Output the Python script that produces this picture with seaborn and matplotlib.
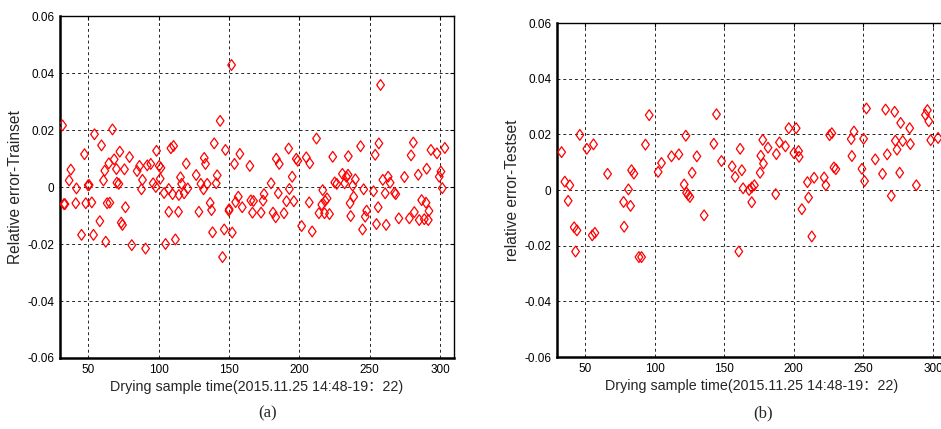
import numpy as np
import matplotlib
matplotlib.use("Agg")
import matplotlib.pyplot as plt
import seaborn as sns

# ==========================
# Data
# ==========================
train_x = [31.8, 32.8, 33.5, 37.7, 36.5, 41.7, 41.2, 45.3, 47.4, 48.3,
           50.0, 50.7, 52.6, 53.8, 54.5, 58.3, 59.5, 60.9, 61.8, 62.5,
           63.5, 65.4, 64.7, 67.3, 68.5, 70.1, 72.5, 70.4, 71.8, 73.5,
           74.4, 75.8, 76.5, 79.4, 81.0, 84.8, 86.5, 87.9, 88.6, 90.8,
           92.0, 94.5, 96.2, 98.1, 98.6, 100.5, 101.7, 101.2, 104.0, 105.0,
           107.3, 107.3, 108.8, 110.7, 110.0, 112.0, 114.2, 114.5, 115.6, 116.4,
           118.2, 119.7, 120.8, 126.8, 128.7, 130.1, 132.5, 133.4, 132.0, 134.6,
           136.7, 137.7, 138.4, 139.6, 141.0, 141.7, 143.8, 145.5, 146.7, 147.6,
           150.0, 150.2, 151.9, 152.4, 154.0, 154.8, 156.7, 157.8, 159.5, 164.9,
           165.6, 167.5, 166.8,
           172.9, 174.3, 175.0, 180.0, 181.4, 183.3, 183.7, 185.8, 185.1, 189.2,
           191.0, 192.5, 193.0, 195.0, 196.2, 197.9, 199.0, 201.7, 205.0, 207.5,
           207.1, 209.2, 212.3, 214.0, 216.7, 216.0, 218.0, 218.4, 219.8, 221.5,
           223.8, 225.2, 226.7, 230.7, 232.3, 233.5, 234.7, 234.9, 236.1, 236.6,
           238.0, 238.7, 239.9, 243.6, 245.0, 245.8, 246.9, 247.9, 252.8, 254.0,
           254.9, 256.1, 256.6, 257.8, 259.4, 261.1, 261.8, 263.2, 264.6, 267.7,
           268.6, 270.8, 274.8, 278.3, 279.5, 281.1, 281.8, 284.6, 285.3, 287.0,
           288.9, 290.1, 290.6, 291.7, 292.2, 293.6, 297.9, 299.5, 300.7, 301.7,
           303.5]
train_err = [0.0216, -0.0060, -0.0060, 0.0061, 0.0023, -0.0005, -0.0057, -0.0168, 0.0115, -0.0057,
             0.0006, 0.0007, -0.0054, -0.0168, 0.0185, -0.0120, 0.0146, 0.0023, 0.0057, -0.0192,
             -0.0057, -0.0055, 0.0083, 0.0202, 0.0097, 0.0063, 0.0124, 0.0015, 0.0011, -0.0125,
             -0.0133, 0.0062, -0.0071, 0.0105, -0.0204, 0.0056, 0.0074, -0.0008, 0.0025, -0.0216,
             0.0076, 0.0081, 0.0013, 0.0000, 0.0127, 0.0074, 0.0067, 0.0029, -0.0021, -0.0200,
             -0.0007, -0.0087, 0.0136, 0.0144, -0.0025, -0.0184, -0.0087, -0.0028, 0.0034, 0.0011,
             -0.0022, 0.0082, -0.0005, 0.0042, -0.0087, 0.0011, 0.0102, 0.0081, -0.0008, 0.0011,
             -0.0056, -0.0081, -0.0159, 0.0153, 0.0013, 0.0041, 0.0232, -0.0246, -0.0149, 0.0130,
             -0.0083, -0.0078, 0.0428, -0.0160, 0.0081, -0.0053, -0.0034, 0.0116, -0.0071, 0.0074,
             -0.0047, -0.0049, -0.0090,
             -0.0090, -0.0048, -0.0025, 0.0013, -0.0090, -0.0106, 0.0099, 0.0081, -0.0022, -0.0092,
             -0.0050, 0.0135, -0.0007, 0.0036, -0.0050, 0.0099, 0.0092, -0.0137, 0.0104, 0.0083,
             -0.0054, -0.0156, 0.0170, -0.0092, -0.0011, -0.0062, -0.0092, -0.0049, -0.0040, -0.0095,
             0.0106, 0.0016, 0.0011, 0.0046, 0.0013, 0.0036, 0.0043, 0.0108, -0.0057, -0.0102,
             0.0005, -0.0034, 0.0027, 0.0143, -0.0149, -0.0008, -0.0104, -0.0083, -0.0015, 0.0113,
             -0.0130, -0.0071, 0.0153, 0.0358, 0.0025, -0.0022, -0.0133, 0.0036, 0.0015, -0.0020,
             -0.0025, -0.0110, 0.0035, -0.0110, 0.0111, 0.0156, -0.0088, 0.0043, -0.0116, -0.0046,
             -0.0113, -0.0055, 0.0064, -0.0116, -0.0084, 0.0130, 0.0118, 0.0036, 0.0054, -0.0004,
             0.0137]

test_x = [33.3, 35.6, 39.2, 38.0, 42.3, 44.3, 43.3, 46.4, 51.4, 56.2,
          55.3, 57.2, 66.3, 77.8, 78.2, 81.3, 82.8, 83.5, 85.2, 88.8,
          90.7, 93.5, 96.2, 102.6, 105.0, 112.2, 117.5, 121.3, 122.5, 123.0,
          124.2, 125.4, 127.0, 130.4, 135.6, 142.6, 144.5, 148.1, 155.7, 157.9,
          161.5, 162.7, 160.5, 163.6, 167.9, 169.8, 171.7, 169.8, 175.8, 176.3,
          178.2, 177.7, 181.5, 187.0, 187.5, 189.7, 194.0, 196.4, 201.7, 200.0,
          203.4, 203.8, 205.8, 209.8, 210.6, 212.9, 214.6, 221.8, 223.0, 225.7,
          227.3, 228.8, 230.2, 241.2, 241.7, 243.2, 248.9, 250.1, 250.8, 252.2,
          258.5, 263.7, 265.9, 267.1, 270.0, 272.4, 272.9, 274.1, 276.0, 276.7,
          278.2, 283.2, 283.7, 288.0, 294.5, 295.9, 296.9, 298.3, 303.6]
test_err = [0.0136, 0.0030, 0.0017, -0.0039, -0.0134, -0.0145, -0.0221, 0.0198, 0.0148, 0.0164,
            -0.0163, -0.0154, 0.0058, -0.0043, -0.0132, 0.0002, -0.0057, 0.0071, 0.0059, -0.0241,
            -0.0241, 0.0163, 0.0269, 0.0065, 0.0097, 0.0121, 0.0128, 0.0020, 0.0195, -0.0010,
            -0.0018, -0.0025, 0.0062, 0.0121, -0.0091, 0.0166, 0.0272, 0.0104, 0.0085, 0.0047,
            0.0148, 0.0071, -0.0221, 0.0006, 0.0000, 0.0009, 0.0017, -0.0044, 0.0062, 0.0123,
            0.0095, 0.0180, 0.0152, -0.0015, 0.0129, 0.0171, 0.0157, 0.0222, 0.0222, 0.0133,
            0.0140, 0.0119, -0.0069, 0.0028, -0.0027, -0.0167, 0.0044, 0.0045, 0.0017, 0.0197,
            0.0204, 0.0081, 0.0075, 0.0183, 0.0122, 0.0210, 0.0076, 0.0184, 0.0032, 0.0293,
            0.0110, 0.0058, 0.0289, 0.0128, -0.0021, 0.0281, 0.0177, 0.0145, 0.0062, 0.0241,
            0.0176, 0.0222, 0.0165, 0.0017, 0.0270, 0.0287, 0.0247, 0.0179, 0.0187]

x_ticks = [50, 100, 150, 200, 250, 300]
y_ticks = [-0.06, -0.04, -0.02, 0, 0.02, 0.04, 0.06]
y_tick_labels = ["-0.06", "-0.04", "-0.02", "0", "0.02", "0.04", "0.06"]
xlabel = "Drying sample time(2015.11.25 14:48-19\uff1a22)"

# ==========================
# Style
# ==========================
sns.set_style("white")
plt.rcParams["font.family"] = ["Liberation Sans", "Noto Sans CJK SC"]
plt.rcParams["font.size"] = 8.5

diamond = [(-0.72, 0), (0, 1), (0.72, 0), (0, -1), (-0.72, 0)]

fig = plt.figure(figsize=(9.41, 4.29), dpi=100)
ax1 = fig.add_axes([60 / 941, 71 / 429, 394 / 941, 342 / 429])
ax2 = fig.add_axes([557 / 941, 72 / 429, 390 / 941, 334 / 429])


def draw(ax, xs, ys, ylabel):
    sns.scatterplot(x=xs, y=ys, ax=ax, marker=diamond, s=60, color="red",
                    linewidth=0.9, zorder=3, legend=False)
    ax.collections[0].set_facecolor("none")
    ax.collections[0].set_edgecolor("red")
    ax.set_xlim(30, 310)
    ax.set_ylim(-0.06, 0.06)
    ax.set_xticks(x_ticks)
    ax.set_yticks(y_ticks)
    ax.set_yticklabels(y_tick_labels)
    ax.grid(True, color="black", linestyle=(0, (3, 3)), linewidth=0.7, alpha=0.85)
    ax.set_axisbelow(True)
    ax.tick_params(direction="in", length=3, width=0.8, top=True, right=True,
                   labelsize=8.5, pad=4, colors="black")
    for side in ["top", "right"]:
        ax.spines[side].set_linewidth(1.0)
        ax.spines[side].set_color("black")
    for side in ["left", "bottom"]:
        ax.spines[side].set_linewidth(1.8)
        ax.spines[side].set_color("black")
    ax.set_xlabel(xlabel, fontsize=10.3, labelpad=3)
    ax.set_ylabel(ylabel, fontsize=11.2, labelpad=3)


draw(ax1, train_x, train_err, "Relative error-Trainset")
draw(ax2, test_x, test_err, "relative error-Testset")

fig.text(268 / 941, 1 - 413 / 429, "(a)", ha="center", va="center",
         fontsize=12, family="Liberation Serif")
fig.text(763 / 941, 1 - 413 / 429, "(b)", ha="center", va="center",
         fontsize=12, family="Liberation Serif")

fig.savefig("out.png", dpi=100)
